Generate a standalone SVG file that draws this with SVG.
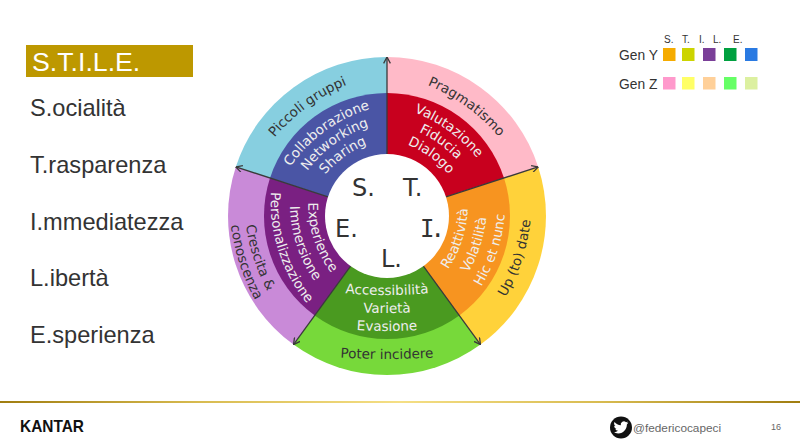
<svg xmlns="http://www.w3.org/2000/svg" width="800" height="447" viewBox="0 0 800 447">
<style>
.l{font-family:"Liberation Sans",Arial,sans-serif;fill:#333}
.list{font-size:23.600px}
.leg{font-size:13.800px}
.hd{font-size:10px}
.o,.i,.c{font-family:"DejaVu Sans",Verdana,sans-serif;text-anchor:middle}
.o{font-size:13.500px;fill:#333}
.i{font-size:13.500px;fill:#eee}
.c{font-size:24px;fill:#333;text-anchor:start}
.spoke{stroke:#3a3a3a;stroke-width:1.3;fill:none;marker-end:url(#ah)}
</style>
<defs>
<marker id="ah" viewBox="0 0 10 10" refX="9.500" refY="5" markerWidth="7.500" markerHeight="7.500" markerUnits="userSpaceOnUse" orient="auto"><path d="M1 .5L9.500 5L1 9.500" fill="none" stroke="#3a3a3a" stroke-width="1.700"/></marker>
<linearGradient id="g"><stop offset="0" stop-color="#a07d10"/><stop offset=".25" stop-color="#d8bb50"/><stop offset=".5" stop-color="#f5df85"/><stop offset=".75" stop-color="#d8bb50"/><stop offset="1" stop-color="#a07d10"/></linearGradient>
<path id="a135" d="M302 101.100A190 190 0 0 1 472 101.100"/>
<path id="a105" d="M302 137.400A150 150 0 0 1 472 137.400"/>
<path id="a89" d="M302 160.300A125 125 0 0 1 472 160.300"/>
<path id="a73" d="M302 186.400A105 105 0 0 1 472 186.400"/>
<path id="i1" d="M302 339A200 200 0 0 0 472 339"/>
<path id="i2" d="M302 308.400A165 165 0 0 0 472 308.400"/>
<path id="i3" d="M302 285.200A140 140 0 0 0 472 285.200"/>
<path id="i4" d="M302 257.500A115 115 0 0 0 472 257.500"/>
<path id="n1" d="M302 353.800A700 700 0 0 0 472 353.800"/>
<path id="n2" d="M302 323.700A500 500 0 0 0 472 323.700"/>
<path id="n3" d="M302 305.700A500 500 0 0 0 472 305.700"/>
<path id="n4" d="M302 287.700A500 500 0 0 0 472 287.700"/>
<path id="e1" d="M302 353.500A215 215 0 0 0 472 353.500"/>
<path id="e2" d="M302 336.500A195 195 0 0 0 472 336.500"/>
<path id="e3" d="M302 305.600A160 160 0 0 0 472 305.600"/>
<path id="e4" d="M302 280.900A135 135 0 0 0 472 280.900"/>
<path id="e5" d="M302 252.800A110 110 0 0 0 472 252.800"/>
</defs>
<rect width="800" height="447" fill="#fff"/>
<g id="title"><rect x="26" y="45" width="167" height="32" fill="#bd9800"/><text x="32" y="71" font-size="26.700" font-family="Liberation Sans, Arial, sans-serif" fill="#fff">S.T.I.L.E.</text></g>
<g id="list" class="l list">
<text x="30" y="116">S.ocialità</text>
<text x="30" y="173">T.rasparenza</text>
<text x="30" y="230">I.mmediatezza</text>
<text x="30" y="286">L.ibertà</text>
<text x="30" y="343">E.sperienza</text>
</g>
<g id="sector-s">
<path d="M387 216L235.800 166.900A159 159 0 0 1 387 57Z" fill="#87cfe0"/>
<path d="M387 216L270 178A123 123 0 0 1 387 93Z" fill="#4a55a5"/>
<g transform="rotate(-36 387 216)">
<text class="o"><textPath href="#a135" startOffset="50%">Piccoli gruppi</textPath></text>
<text class="i"><textPath href="#a105" startOffset="50%">Collaborazione</textPath></text>
<text class="i"><textPath href="#a89" startOffset="50%">Networking</textPath></text>
<text class="i"><textPath href="#a73" startOffset="50%">Sharing</textPath></text>
</g>
</g>
<g id="sector-t">
<path d="M387 216L387 57A159 159 0 0 1 538.200 166.900Z" fill="#ffbac8"/>
<path d="M387 216L387 93A123 123 0 0 1 504 178Z" fill="#c8001e"/>
<g transform="rotate(36 387 216)">
<text class="o"><textPath href="#a135" startOffset="50%">Pragmatismo</textPath></text>
<text class="i"><textPath href="#a105" startOffset="50%">Valutazione</textPath></text>
<text class="i"><textPath href="#a89" startOffset="50%">Fiducia</textPath></text>
<text class="i"><textPath href="#a73" startOffset="50%">Dialogo</textPath></text>
</g>
</g>
<g id="sector-i">
<path d="M387 216L538.200 166.900A159 159 0 0 1 480.500 344.600Z" fill="#ffd23a"/>
<path d="M387 216L504 178A123 123 0 0 1 459.300 315.500Z" fill="#f79420"/>
<g transform="rotate(-72 387 216)">
<text class="o"><textPath href="#i1" startOffset="50%">Up (to) date</textPath></text>
<text class="i"><textPath href="#i2" startOffset="50%">Hic et nunc</textPath></text>
<text class="i"><textPath href="#i3" startOffset="50%">Volatilità</textPath></text>
<text class="i"><textPath href="#i4" startOffset="50%">Reattività</textPath></text>
</g>
</g>
<g id="sector-l">
<path d="M387 216L480.500 344.600A159 159 0 0 1 293.500 344.600Z" fill="#77d93a"/>
<path d="M387 216L459.300 315.500A123 123 0 0 1 314.700 315.500Z" fill="#4a9a20"/>
<text class="o"><textPath href="#n1" startOffset="50%">Poter incidere</textPath></text>
<text class="i"><textPath href="#n2" startOffset="50%">Evasione</textPath></text>
<text class="i"><textPath href="#n3" startOffset="50%">Varietà</textPath></text>
<text class="i"><textPath href="#n4" startOffset="50%">Accessibilità</textPath></text>
</g>
<g id="sector-e">
<path d="M387 216L293.500 344.600A159 159 0 0 1 235.800 166.900Z" fill="#c98ad8"/>
<path d="M387 216L314.700 315.500A123 123 0 0 1 270 178Z" fill="#7a2082"/>
<g transform="rotate(72 387 216)">
<text class="o"><textPath href="#e1" startOffset="50%">conoscenza</textPath></text>
<text class="o"><textPath href="#e2" startOffset="50%">Crescita &amp;</textPath></text>
<text class="i"><textPath href="#e3" startOffset="50%">Personalizzazione</textPath></text>
<text class="i"><textPath href="#e4" startOffset="50%">Immersione</textPath></text>
<text class="i"><textPath href="#e5" startOffset="50%">Experience</textPath></text>
</g>
</g>
<g id="connectors">
<path class="spoke" d="M387 154V57"/>
<path class="spoke" d="M446 196.800L538.200 166.900"/>
<path class="spoke" d="M423.400 266.200L480.500 344.600"/>
<path class="spoke" d="M350.600 266.200L293.500 344.600"/>
<path class="spoke" d="M328 196.800L235.800 166.900"/>
</g>
<g id="hub">
<circle cx="387" cy="216" r="62" fill="#fff"/>
<text class="c" x="352" y="196">S.</text>
<text class="c" x="403" y="196">T.</text>
<text class="c" x="335" y="237">E.</text>
<text class="c" x="420" y="237" style="font-family:'DejaVu Sans Mono',monospace" letter-spacing="-4">I.</text>
<text class="c" x="381" y="267">L.</text>
</g>
<g id="legend">
<g class="l hd"><text x="664" y="43">S.</text><text x="682" y="43">T.</text><text x="699" y="43">I.</text><text x="713" y="43">L.</text><text x="733" y="43">E.</text></g>
<g class="l leg"><text x="619" y="60">Gen Y</text><text x="619" y="89">Gen Z</text></g>
<rect x="663" y="48" width="12.500" height="13" fill="#f5ab00"/><rect x="682" y="48" width="12.500" height="13" fill="#ccd400"/><rect x="703" y="48" width="12.500" height="13" fill="#7a3f98"/><rect x="724" y="48" width="12.500" height="13" fill="#00a040"/><rect x="745" y="48" width="12.500" height="13" fill="#2a7ae2"/>
<rect x="663" y="77" width="12.500" height="12.500" fill="#ff99cc"/><rect x="682" y="77" width="12.500" height="12.500" fill="#ffff66"/><rect x="703" y="77" width="12.500" height="12.500" fill="#ffd099"/><rect x="724" y="77" width="12.500" height="12.500" fill="#66ff66"/><rect x="745" y="77" width="12.500" height="12.500" fill="#dcf0a0"/>
</g>
<g id="footer">
<rect x="0" y="401" width="800" height="2" fill="url(#g)"/>
<text x="20" y="432" font-size="17" font-weight="700" font-family="Liberation Sans, Arial, sans-serif" fill="#111" textLength="64" lengthAdjust="spacingAndGlyphs">KANTAR</text>
<circle cx="621" cy="427.500" r="11" fill="#111"/>
<path transform="translate(613.500 420) scale(.62)" fill="#fff" d="M23.950 4.570a10 10 0 01-2.820.77 4.960 4.960 0 002.160-2.720c-.95.54-2 .94-3.120 1.180a4.920 4.920 0 00-8.380 4.480C7.690 8.090 4.070 6.130 1.640 3.160a4.820 4.820 0 00-.66 2.470c0 1.710.87 3.210 2.190 4.100a4.900 4.900 0 01-2.230-.62v.06a4.920 4.920 0 003.950 4.830 4.900 4.900 0 01-2.220.08 4.940 4.940 0 004.600 3.420A9.870 9.870 0 010 19.540a14 14 0 007.560 2.210c9.050 0 14-7.500 14-14 0-.21 0-.42-.02-.63a9.940 9.940 0 002.460-2.550z"/>
<text x="633" y="432" font-size="11.800" font-family="Liberation Sans, Arial, sans-serif" fill="#666">@federicocapeci</text>
<text x="771" y="430" font-size="9" font-family="Liberation Sans, Arial, sans-serif" fill="#666">16</text>
</g>
</svg>
